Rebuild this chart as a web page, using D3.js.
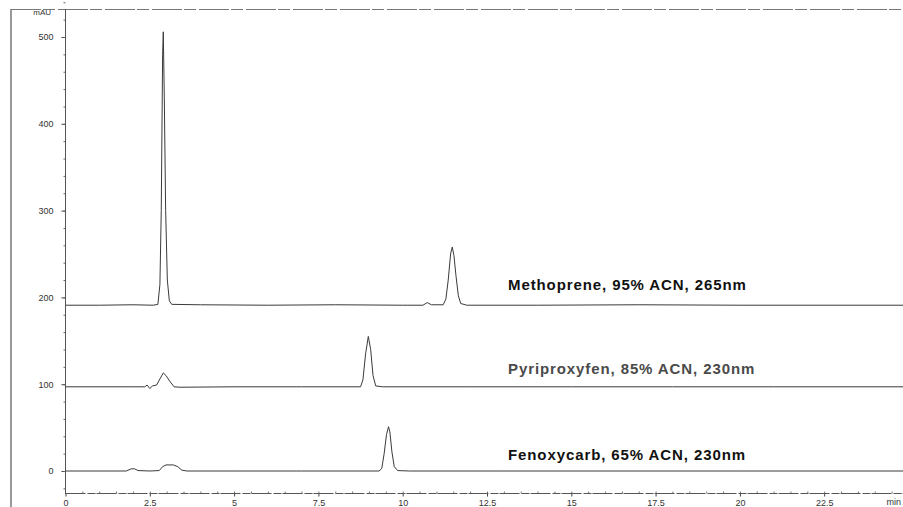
<!DOCTYPE html>
<html>
<head>
<meta charset="utf-8">
<script src="https://cdn.jsdelivr.net/npm/d3@7"></script>
<style>
  body { margin: 0; background: #fff; }
  svg { display: block; font-family: "Liberation Sans", Arial, sans-serif; }
</style>
</head>
<body>
<svg id="chart" width="903" height="507"></svg>
<script>
// retention time (min), absorbance (mAU)
var methoprene = [[0,191],[1.0,191],[2.0,191.5],[2.6,191],[2.74,192],[2.8,215],[2.84,300],[2.88,480],[2.9,506],[2.93,430],[2.97,300],[3.02,220],[3.08,196],[3.15,192],[4,191.5],[6,191],[8,191.5],[10,191],[10.6,191],[10.73,194],[10.85,191.5],[11.2,191.5],[11.28,198],[11.35,220],[11.42,250],[11.47,258],[11.52,248],[11.58,225],[11.65,202],[11.72,193],[11.9,191],[14,191],[17,191.5],[20,191],[23,191],[25,191]];
var pyriproxyfen = [[0,97],[2,97],[2.35,97],[2.42,99],[2.5,95],[2.58,98],[2.7,99],[2.8,106],[2.9,113],[2.98,110],[3.1,103],[3.22,97],[3.4,96.5],[5,97],[7,97],[8.75,97],[8.82,105],[8.9,135],[8.98,155],[9.05,140],[9.12,110],[9.2,98],[9.4,97],[12,97],[15,97],[18,97],[21,97],[25,97]];
var fenoxycarb = [[0,0],[1.8,0],[1.95,2.5],[2.05,2.5],[2.15,0.5],[2.5,0],[2.78,0.5],[2.88,5],[2.98,7],[3.2,7],[3.33,5],[3.45,1],[3.6,0],[5,0],[7,0],[9.3,0],[9.38,3],[9.45,20],[9.52,42],[9.58,51],[9.62,45],[9.68,22],[9.75,5],[9.85,0.5],[10.2,0],[13,0],[16,0],[20,0],[25,0]];

var seriesNames = ["Methoprene, 95% ACN, 265nm", "Pyriproxyfen, 85% ACN, 230nm", "Fenoxycarb, 65% ACN, 230nm"];
var yTicks = [0, 100, 200, 300, 400, 500];
var xTicks = [0, 2.5, 5, 7.5, 10, 12.5, 15, 17.5, 20, 22.5];

var svg = d3.select("#chart");

var x = d3.scaleLinear().domain([0, 25]).range([65.5, 65.5 + 25 * 33.72]);
var y = d3.scaleLinear().domain([0, 500]).range([471, 37]);

// outer frame bits
svg.append("line").attr("x1", 11).attr("x2", 11).attr("y1", 9).attr("y2", 507)
  .style("stroke", "#333").style("stroke-width", 1);
svg.append("line").attr("x1", 11).attr("x2", 903).attr("y1", 9.5).attr("y2", 9.5)
  .style("stroke", "#777").style("stroke-width", 1).style("stroke-dasharray", "30,2,12,3");

// y axis
var yAx = svg.append("g").attr("transform", "translate(65.5,0)")
  .call(d3.axisLeft(y).tickValues(yTicks).tickSize(4).tickFormat(d3.format("d")));
yAx.select(".domain").remove();
yAx.selectAll("text").style("font-size", "9px").style("fill", "#333").attr("x", -12);
yAx.selectAll("line").style("stroke", "#444");
var yMinor = svg.append("g").attr("transform", "translate(65.5,0)")
  .call(d3.axisLeft(y).tickValues(d3.range(-20, 541, 20)).tickSize(2).tickFormat(""));
yMinor.select(".domain").remove();
yMinor.selectAll("line").style("stroke", "#666");
svg.append("line").attr("x1", 65.5).attr("x2", 65.5).attr("y1", 9).attr("y2", 494)
  .style("stroke", "#555");
svg.append("text").attr("x", 51).attr("y", 15).attr("text-anchor", "end")
  .style("font-size", "8px").style("fill", "#333").text("mAU");

// x axis
var xAx = svg.append("g").attr("transform", "translate(0,493.5)")
  .call(d3.axisBottom(x).tickValues(xTicks).tickSize(3).tickFormat(d3.format("")));
xAx.select(".domain").remove();
xAx.selectAll("text").style("font-size", "9px").style("fill", "#333").attr("y", 6);
xAx.selectAll("line").style("stroke", "#444");
var xMinor = svg.append("g").attr("transform", "translate(0,493.5)")
  .call(d3.axisTop(x).tickValues(d3.range(0.5, 25, 0.5)).tickSize(2).tickFormat(""));
xMinor.select(".domain").remove();
xMinor.selectAll("line").style("stroke", "#777");
svg.append("line").attr("x1", 65.5).attr("x2", 903).attr("y1", 493.5).attr("y2", 493.5)
  .style("stroke", "#555").style("stroke-dasharray", "20,2,8,1");
svg.append("text").attr("x", 901).attr("y", 505).attr("text-anchor", "end")
  .style("font-size", "9px").style("fill", "#333").text("min");

// traces
var line = d3.line().x(function(d) { return x(d[0]); }).y(function(d) { return y(d[1]); });
[methoprene, pyriproxyfen, fenoxycarb].forEach(function(s) {
  svg.append("path").datum(s).attr("d", line)
    .style("fill", "none").style("stroke", "#3a3a3a").style("stroke-width", 1);
});

// trace labels
var labelY = [290, 374, 460];
var labelColor = ["#111", "#4a4a4a", "#111"];
svg.selectAll(".lbl").data(seriesNames).enter().append("text")
  .attr("class", "lbl")
  .attr("x", 508)
  .attr("y", function(d, i) { return labelY[i]; })
  .style("font-size", "15px").style("font-weight", "bold").style("letter-spacing", "0.9px")
  .style("fill", function(d, i) { return labelColor[i]; })
  .text(function(d) { return d; });
</script>
</body>
</html>
